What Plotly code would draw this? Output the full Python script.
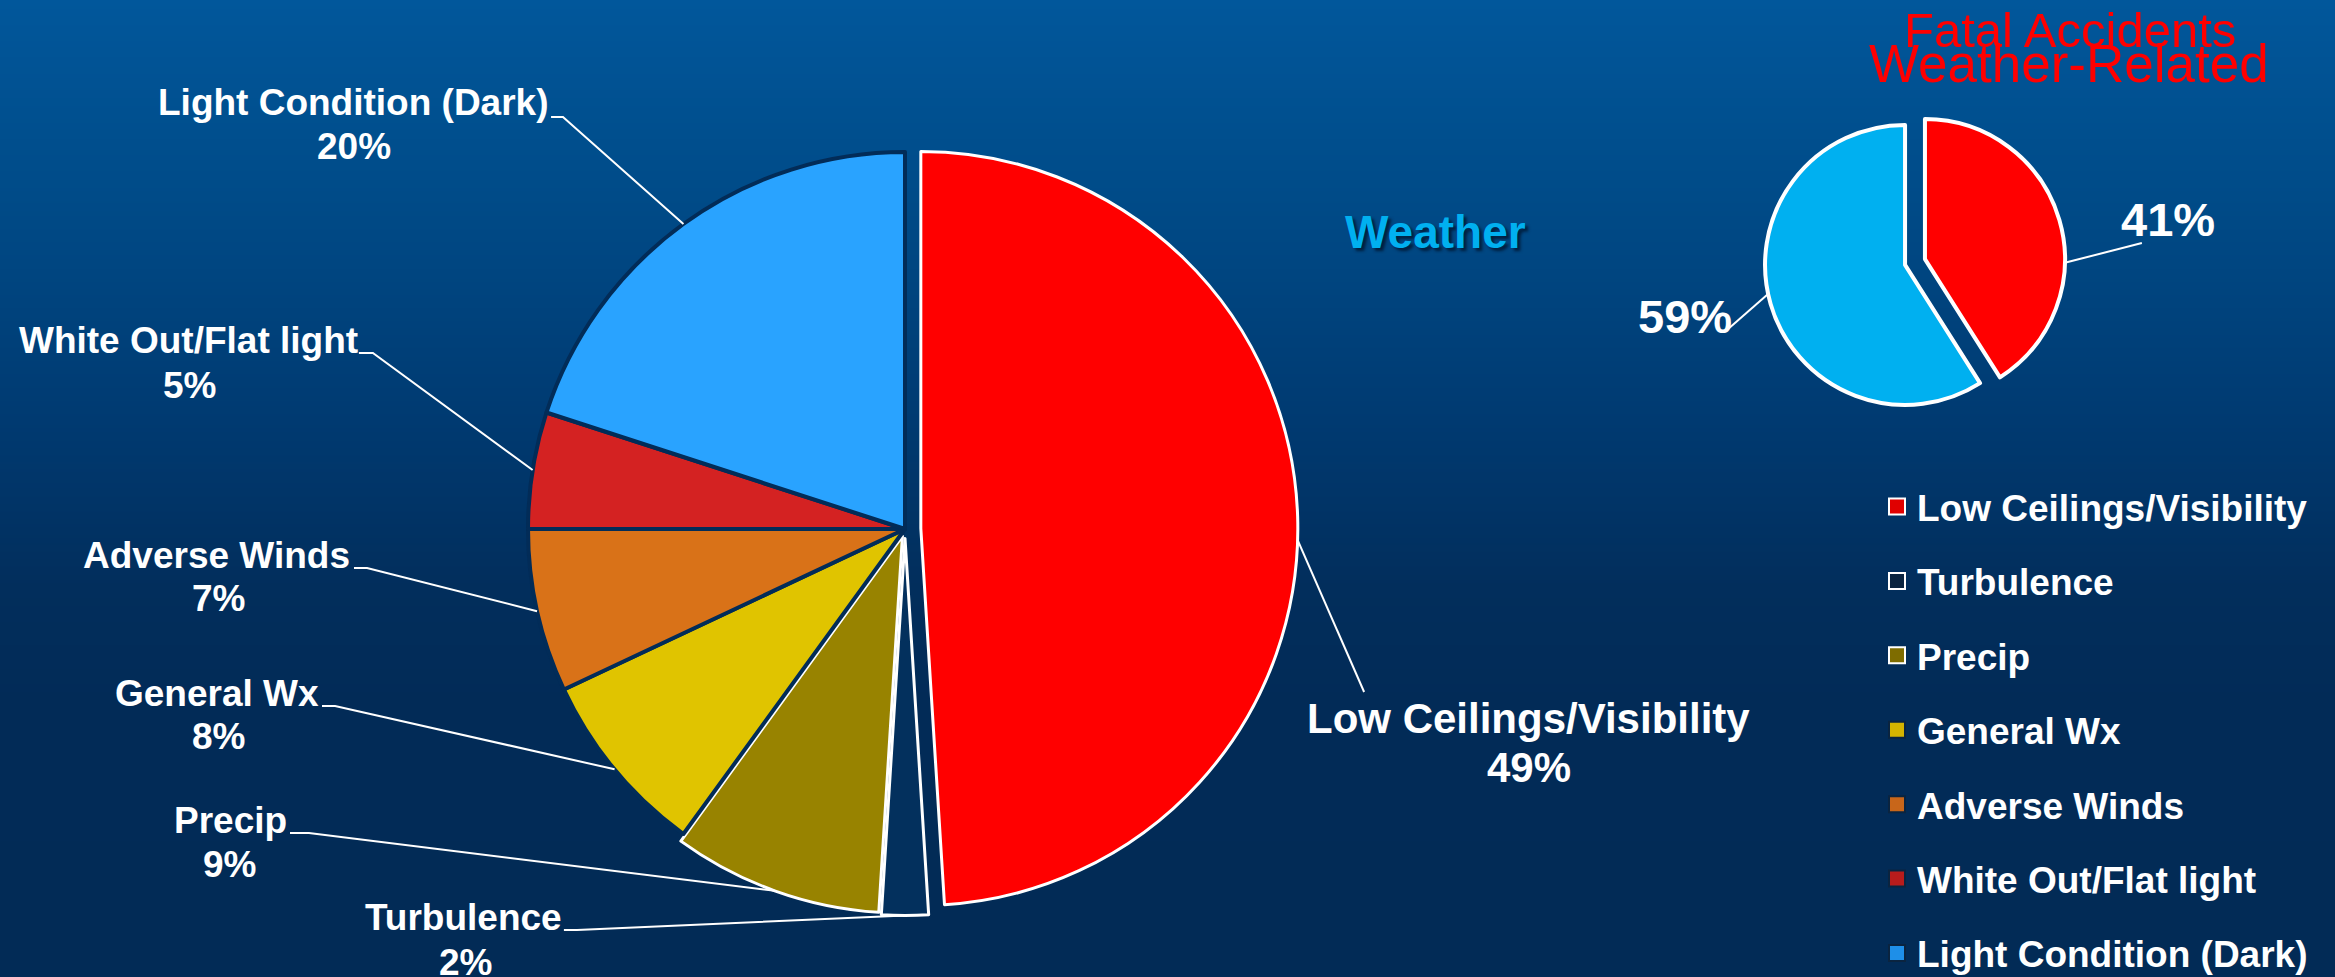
import math
import plotly.graph_objects as go

W, H = 2335, 977

# ---------------- data ----------------
categories = ["Low Ceilings/Visibility", "Turbulence", "Precip", "General Wx",
              "Adverse Winds", "White Out/Flat light", "Light Condition (Dark)"]
values = [49, 2, 9, 8, 7, 5, 20]
colors = ["#FF0000", "#03305D", "#988300", "#E0C400", "#D97218", "#D42222", "#29A3FF"]
border_colors = ["#FFFFFF", "#FFFFFF", "#FFFFFF", "#022C58", "#022C58", "#022C58", "#022C58"]
pulls = [0.042, 0.025, 0.02, 0, 0, 0, 0]

fatal_labels = ["Weather-Related", "Other"]
fatal_values = [41, 59]
fatal_colors = ["#FF0000", "#00B0F0"]
fatal_pulls = [0.074, 0.074]

# legend swatch styling
legend_fill = ["#E00000", "#0A2440", "#7E6C00", "#D4B400", "#C8661A", "#B81C1C", "#1E8FE8"]
legend_line = ["#FFFFFF", "#FFFFFF", "#FFFFFF", "#0A2440", "#0A2440", "#0A2440", "#0A2440"]

FONT = "Liberation Sans, Arial, sans-serif"

# ---------------- geometry (pixels) ----------------
CX, CY, R = 905, 529, 377          # main pie
SCX, SCY, SR = 1915, 262, 140      # small pie


def paper(x, y):
    return x / W, 1 - y / H


def domain(cx, cy, r, pl):
    half = r * (1 + max(pl))
    return dict(x=[(cx - half) / W, (cx + half) / W],
                y=[1 - (cy + half) / H, 1 - (cy - half) / H])


def arc_point(vals, pl, i, cx, cy, r, frac=0.5):
    tot = sum(vals)
    start = sum(vals[:i]) / tot * 2 * math.pi
    span = vals[i] / tot * 2 * math.pi
    mid = start + span / 2
    ang = start + span * frac
    px = cx + r * math.sin(ang) + pl[i] * r * math.sin(mid)
    py = cy - r * math.cos(ang) - pl[i] * r * math.cos(mid)
    return px, py


fig = go.Figure()

# background gradient
fig.add_trace(go.Heatmap(
    x=[0, 1], y=[0, 1], z=[[0, 0], [1, 1]], zsmooth="best", showscale=False,
    hoverinfo="skip",
    colorscale=[[0, "#022B56"], [0.28, "#022B57"], [0.4, "#022E5C"],
                [0.57, "#003A71"], [0.8, "#004B88"], [1, "#01579B"]],
))

# main pie
fig.add_trace(go.Pie(
    labels=categories, values=values, sort=False, direction="clockwise", rotation=0,
    pull=pulls, textinfo="none", showlegend=False,
    marker=dict(colors=colors, line=dict(color=border_colors, width=[3, 3, 3, 4, 4, 4, 4])),
    domain=domain(CX, CY, R, pulls),
))

# small pie
fig.add_trace(go.Pie(
    labels=fatal_labels, values=fatal_values, sort=False, direction="clockwise", rotation=0,
    pull=fatal_pulls, textinfo="none", showlegend=False,
    marker=dict(colors=fatal_colors, line=dict(color="#FFFFFF", width=4)),
    domain=domain(SCX, SCY, SR, fatal_pulls),
))

# legend entries
for cat, fc, lc in zip(categories, legend_fill, legend_line):
    fig.add_trace(go.Scatter(
        x=[None], y=[None], mode="markers", name=cat, legendgroup=cat,
        marker=dict(symbol="square", size=16, color=fc, line=dict(color=lc, width=2)),
    ))

# ---------------- labels ----------------
label_pos = {
    "Low Ceilings/Visibility": ((1529, 718), (1529, 767), 42),
    "Turbulence": ((463, 917), (465, 962), 37),
    "Precip": ((230, 820), (229, 864), 37),
    "General Wx": ((217, 693), (218, 736), 37),
    "Adverse Winds": ((217, 555), (218, 598), 37),
    "White Out/Flat light": ((188, 340), (189, 385), 37),
    "Light Condition (Dark)": ((353, 103), (354, 147), 37),
}
leader_start = {
    "Low Ceilings/Visibility": [(1364, 692)],
    "Turbulence": [(564, 930), (577, 930)],
    "Precip": [(290, 833), (309, 833)],
    "General Wx": [(322, 706), (335, 706)],
    "Adverse Winds": [(354, 568), (367, 568)],
    "White Out/Flat light": [(359, 353), (373, 353)],
    "Light Condition (Dark)": [(551, 117), (563, 117)],
}
leader_frac = [0.52, 0.5, 0.5, 0.5, 0.5, 0.5, 0.5]

annotations = []
shapes = []


def add_text(text, xy, size, color="#FFFFFF", weight="bold", **kw):
    x, y = paper(*xy)
    annotations.append(dict(
        text=text, x=x, y=y, xref="paper", yref="paper", xanchor="center",
        yanchor="middle", showarrow=False,
        font=dict(family=FONT, size=size, color=color, weight=weight, **kw)))


def add_leader(points, end):
    pts = list(points) + [end]
    d = "M {:.4f},{:.4f}".format(*paper(*pts[0]))
    for p in pts[1:]:
        d += " L {:.4f},{:.4f}".format(*paper(*p))
    shapes.append(dict(type="path", path=d, xref="paper", yref="paper",
                       line=dict(color="#FFFFFF", width=2)))


for i, cat in enumerate(categories):
    npos, ppos, size = label_pos[cat]
    add_text(cat, npos, size)
    add_text(f"{values[i]}%", ppos, size)
    add_leader(leader_start[cat], arc_point(values, pulls, i, CX, CY, R, leader_frac[i]))

# small pie labels
fatal_label_pos = [(2168, 220), (1685, 316)]
fatal_leader_start = [(2142, 243), (1727, 330)]
fatal_attach_frac = [0.62, 0.52]
for i in range(2):
    add_text(f"{fatal_values[i]}%", fatal_label_pos[i], 47)
    add_leader([fatal_leader_start[i]],
               arc_point(fatal_values, fatal_pulls, i, SCX, SCY, SR, fatal_attach_frac[i]))

# titles
add_text("Fatal Accidents", (2070, 30), 49, color="#FF0000", weight="normal")
add_text("Weather-Related", (2069, 64), 53, color="#FF0000", weight="normal")
add_text("Weather", (1435, 232), 46, color="#00B0F0",
         shadow="3px 3px 3px rgba(0,20,45,0.8)")

lx, ly = paper(1877, 476)

fig.update_layout(
    width=W, height=H,
    margin=dict(l=0, r=0, t=0, b=0, autoexpand=False),
    paper_bgcolor="#022B56", plot_bgcolor="#022B56",
    xaxis=dict(range=[0, 1], visible=False, domain=[0, 1], fixedrange=True),
    yaxis=dict(range=[0, 1], visible=False, domain=[0, 1], fixedrange=True),
    showlegend=True,
    legend=dict(x=lx, y=ly, xanchor="left", yanchor="top", traceorder="grouped",
                tracegroupgap=23.3, bgcolor="rgba(0,0,0,0)",
                font=dict(family=FONT, size=37, color="#FFFFFF", weight="bold")),
    annotations=annotations,
    shapes=shapes,
)

fig.write_html("out.html")
